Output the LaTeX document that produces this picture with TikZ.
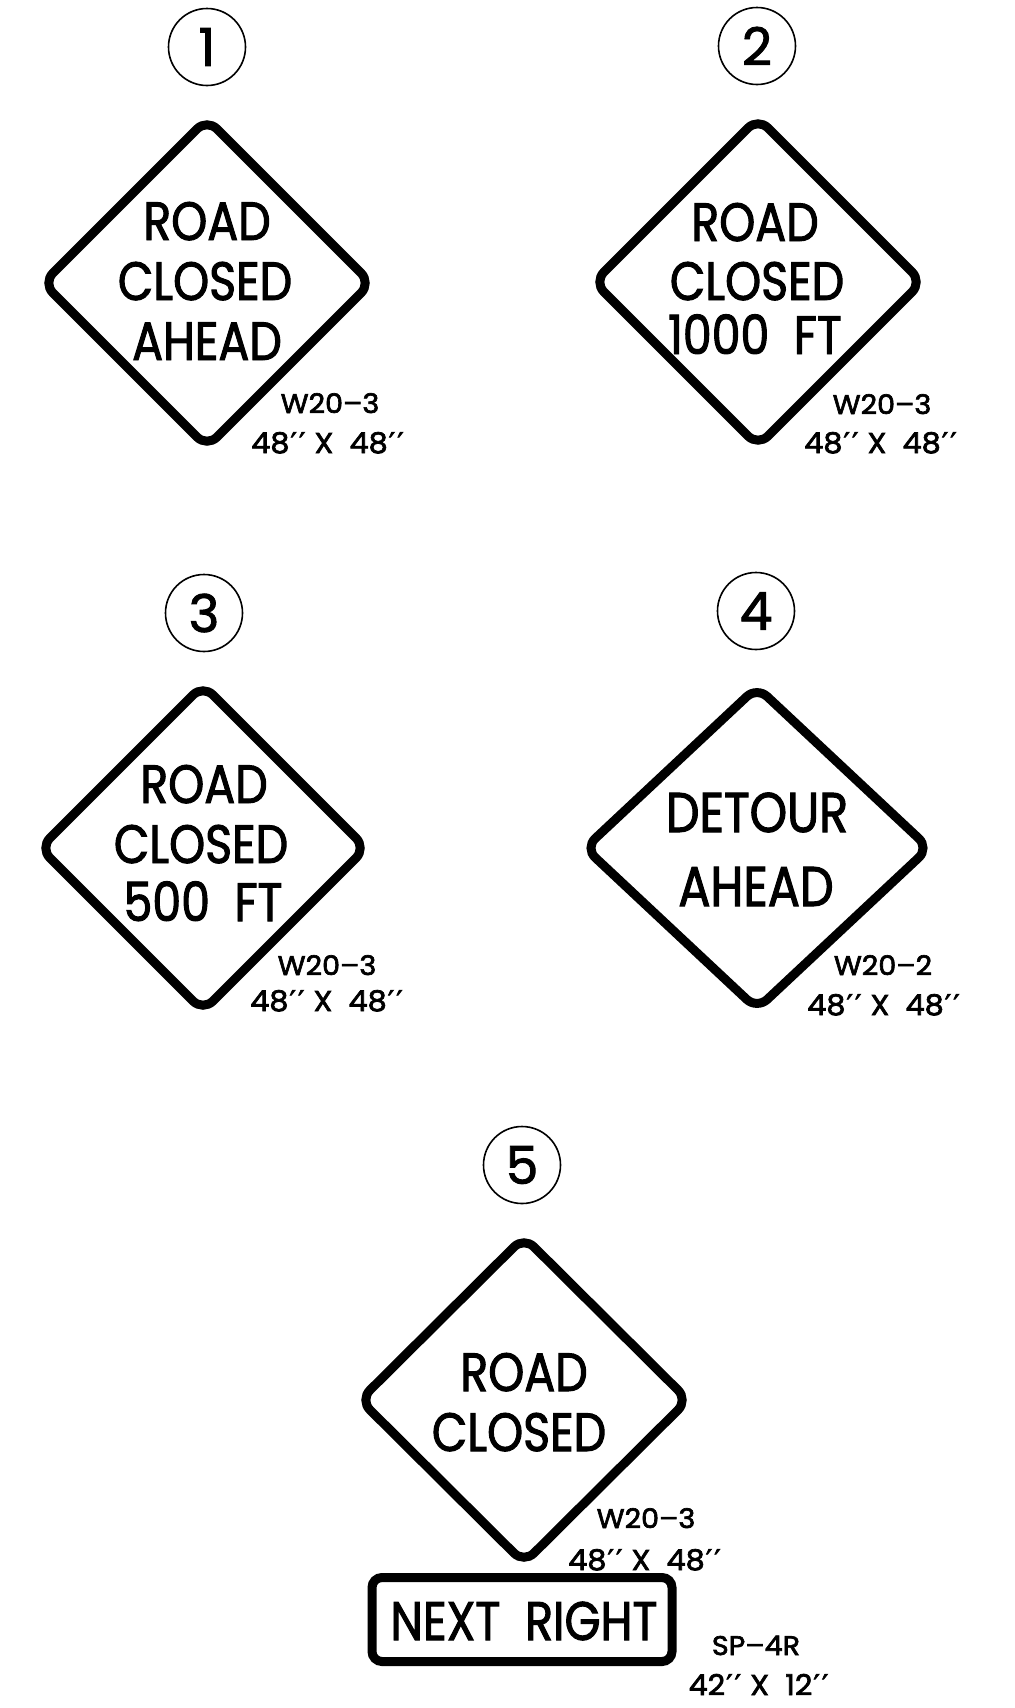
\documentclass[tikz,border=0pt]{standalone}
\usepackage{fontspec}
\usetikzlibrary{shapes.geometric}
\newfontfamily\signfont[FakeStretch=0.85,FakeBold=1.8]{Poppins}
\newfontfamily\numfont[FakeStretch=1.0,FakeBold=1.8]{Poppins}
\newfontfamily\tagfont[FakeStretch=1.06,FakeBold=2.4]{Poppins}
\newfontfamily\primefont[FakeBold=2.4]{DejaVu Sans}
\newcommand{\pp}{{\primefont\kern0.5pt ′\kern1pt′\kern0.5pt}}
\tikzset{
  signdiamond/.style={diamond,draw=black,fill=white,line width=4.5pt,rounded corners=7pt,inner sep=0pt,outer sep=0pt,aspect=1},
  signrect/.style={rectangle,draw=black,line width=4.5pt,rounded corners=5pt,inner sep=0pt,outer sep=0pt,minimum width=150pt,minimum height=42pt},
  numcircle/.style={circle,draw=black,line width=0.8pt,minimum size=38.5pt,inner sep=0pt,font=\numfont\fontsize{26}{26}\selectfont},
  bigtext/.style={anchor=base,inner sep=0pt,font=\signfont\fontsize{27}{27}\selectfont},
  detourtext/.style={anchor=base,inner sep=0pt,font=\signfont\fontsize{28}{28}\selectfont},
  nexttext/.style={anchor=base,inner sep=0pt,font=\signfont\fontsize{27.2}{27.2}\selectfont},
  tagtext/.style={anchor=base,inner sep=0pt,font=\tagfont\fontsize{13.5}{13.5}\selectfont},
  sizetext/.style={anchor=base,inner sep=0pt,font=\tagfont\fontsize{14.3}{14.3}\selectfont}
}
\begin{document}
\begin{tikzpicture}[x=0.5pt,y=-0.5pt]
\useasboundingbox (0,0) rectangle (1014,1708);
% circles
\node[numcircle] (c1) at (207,47) {1};
\node[numcircle] (c2) at (757,46) {2};
\node[numcircle] (c3) at (204,613) {3};
\node[numcircle] (c4) at (756,611) {4};
\node[numcircle] (c5) at (522,1165) {5};
% diamonds
\node[signdiamond,minimum width=164pt,minimum height=164pt] (d1) at (207,283) {};
\node[signdiamond,minimum width=164pt,minimum height=164pt] (d2) at (758,282) {};
\node[signdiamond,minimum width=163pt,minimum height=163pt] (d3) at (203,848) {};
\node[signdiamond,minimum width=172pt,minimum height=161pt] (d4) at (757,848) {};
\node[signdiamond,minimum width=164pt,minimum height=163pt] (d5) at (524,1400) {};
% sign 1
\node[bigtext] (t1a) at (207,240) {ROAD};
\node[bigtext] (t1b) at (205,300) {CLOSED};
\node[bigtext] (t1c) at (207,360) {AHEAD};
\node[tagtext] (l1a) at (330,413) {W20–3};
\node[sizetext] (l1b) at (328,453) {48\pp\ X\ \ 48\pp};
% sign 2
\node[bigtext] (t2a) at (755,241) {ROAD};
\node[bigtext] (t2b) at (757,300) {CLOSED};
\node[bigtext] (t2c) at (755,354) {1000\ \ FT};
\node[tagtext] (l2a) at (882,414) {W20–3};
\node[sizetext] (l2b) at (881,453) {48\pp\ X\ \ 48\pp};
% sign 3
\node[bigtext] (t3a) at (204,803) {ROAD};
\node[bigtext] (t3b) at (201,863) {CLOSED};
\node[bigtext] (t3c) at (203,921) {500\ \ FT};
\node[tagtext] (l3a) at (327,975) {W20–3};
\node[sizetext] (l3b) at (327,1011) {48\pp\ X\ \ 48\pp};
% sign 4
\node[detourtext] (t4a) at (757,832) {DETOUR};
\node[detourtext] (t4b) at (756,906) {AHEAD};
\node[tagtext] (l4a) at (883,975) {W20–2};
\node[sizetext] (l4b) at (884,1015) {48\pp\ X\ \ 48\pp};
% sign 5
\node[bigtext] (t5a) at (524,1391) {ROAD};
\node[bigtext] (t5b) at (519,1451) {CLOSED};
\node[tagtext] (l5a) at (646,1528) {W20–3};
\node[sizetext] (l5b) at (645,1570) {48\pp\ X\ \ 48\pp};
% plaque
\node[signrect] (r5) at (522,1619.5) {};
\node[nexttext] (t5c) at (524,1640) {NEXT\ \ RIGHT};
\node[tagtext] (l5c) at (756,1655) {SP–4R};
\node[sizetext] (l5d) at (759,1695) {42\pp\ X\ \ 12\pp};
\end{tikzpicture}
\end{document}
